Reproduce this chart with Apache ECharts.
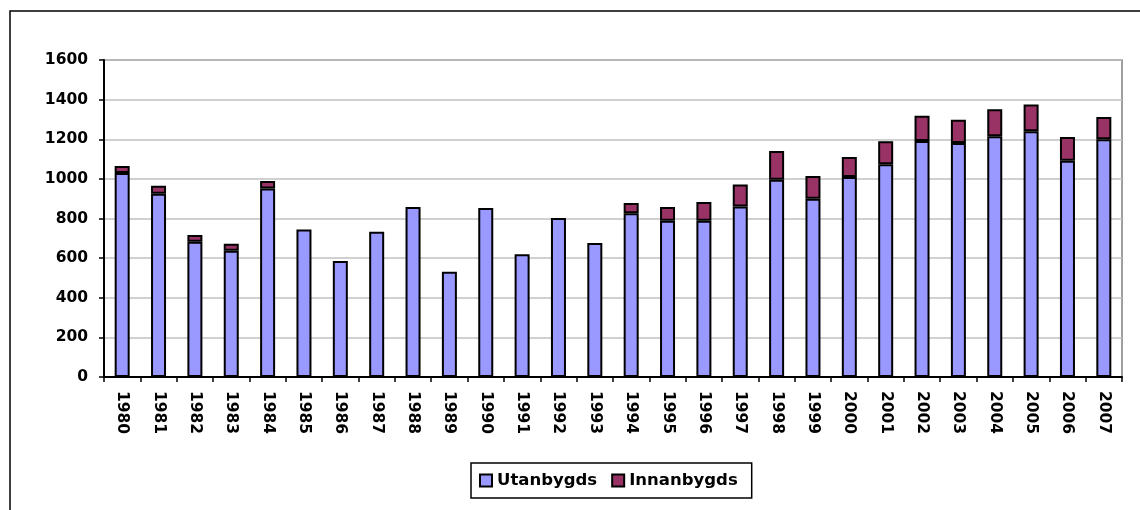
<!DOCTYPE html>
<html>
<head>
<meta charset="utf-8">
<script src="https://cdn.jsdelivr.net/npm/echarts@6/dist/echarts.min.js"></script>
<style>
html,body{margin:0;padding:0;background:#fff;}
#chart{width:1140px;height:510px;}
</style>
</head>
<body>
<div id="chart"></div>
<script>
const years = ['1980','1981','1982','1983','1984','1985','1986','1987','1988','1989','1990','1991','1992','1993','1994','1995','1996','1997','1998','1999','2000','2001','2002','2003','2004','2005','2006','2007'];
const utanbygds = [1030,925,683,637,952,745,585,733,858,531,853,619,803,676,826,789,789,860,996,900,1010,1074,1191,1181,1215,1240,1092,1200];
const innanbygds = [35,40,34,36,37,0,0,0,0,0,0,0,0,0,52,69,94,111,145,115,101,116,128,118,136,135,119,112];
const yTicks = [0,200,400,600,800,1000,1200,1400,1600];

const chart = echarts.init(document.getElementById('chart'));
const font = 'DejaVu Sans';
chart.setOption({
  animation:false,
  backgroundColor:'#fff',
  graphic:[{type:'rect',shape:{x:10,y:11,width:1200,height:600},style:{fill:'none',stroke:'#000',lineWidth:1.5},silent:true,z:-1}],
  grid:{left:104,top:60,right:18,bottom:133,show:true,borderColor:'#808080',borderWidth:1.5,backgroundColor:'transparent'},
  legend:{
    bottom:12,left:471,
    data:['Utanbygds','Innanbygds'],
    icon:'rect',itemWidth:12,itemHeight:12,itemGap:14,
    borderColor:'#000',borderWidth:1.5,padding:[9,14,9,8],
    textStyle:{fontFamily:font,fontWeight:'bold',fontSize:16.5,color:'#000'}
  },
  xAxis:{
    type:'category',data:years,
    axisLine:{lineStyle:{color:'#000',width:2}},
    axisTick:{show:true,length:5,lineStyle:{color:'#000',width:1.5}},
    axisLabel:{rotate:-90,margin:14,interval:0,fontFamily:font,fontWeight:'bold',fontSize:15.5,color:'#000'}
  },
  yAxis:{
    type:'value',min:yTicks[0],max:yTicks[yTicks.length-1],interval:200,
    axisLine:{show:true,lineStyle:{color:'#000',width:2}},
    axisTick:{show:true,length:5,lineStyle:{color:'#000',width:1.5}},
    axisLabel:{margin:16,fontFamily:font,fontWeight:'bold',fontSize:15.5,color:'#000',formatter:v=>String(v)},
    splitLine:{lineStyle:{color:'#c0c0c0',width:1.5}}
  },
  series:[
    {name:'Utanbygds',type:'bar',stack:'t',data:utanbygds,barWidth:15,
     itemStyle:{color:'#9999ff',borderColor:'#000',borderWidth:2}},
    {name:'Innanbygds',type:'bar',stack:'t',data:innanbygds.map(v=>v===0?null:v),barWidth:15,
     itemStyle:{color:'#993366',borderColor:'#000',borderWidth:2}}
  ]
});
</script>
</body>
</html>
